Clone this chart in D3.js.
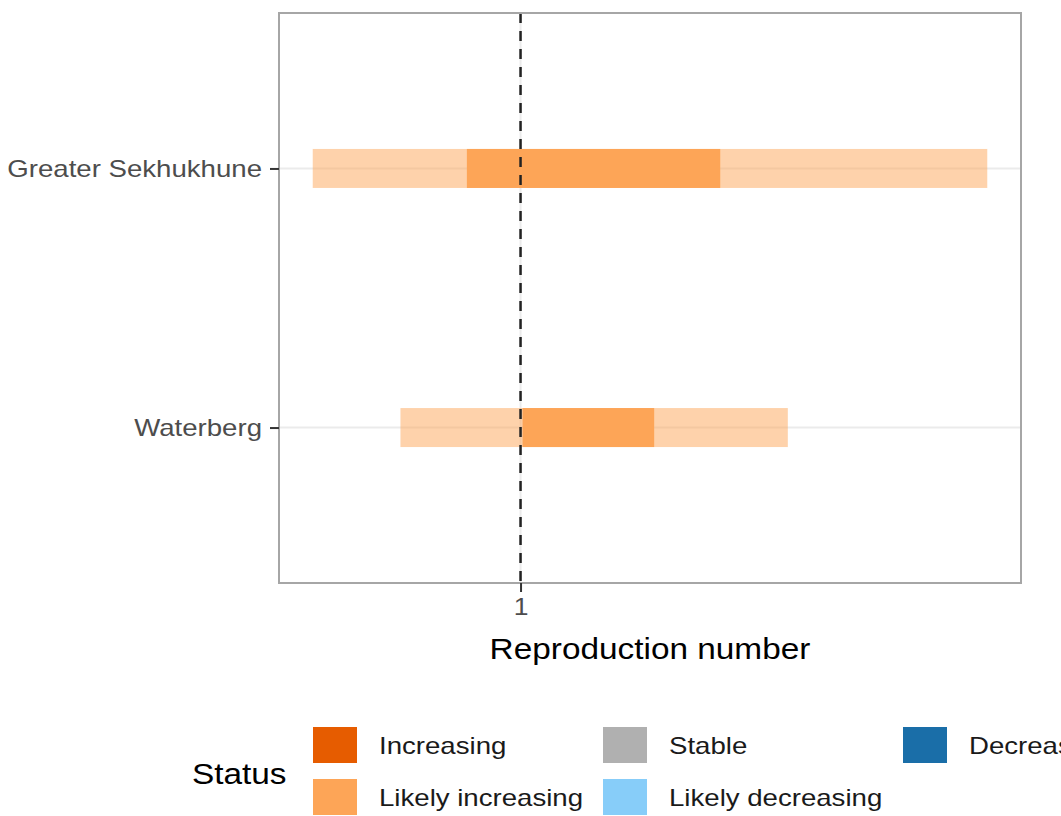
<!DOCTYPE html>
<html>
<head>
<meta charset="utf-8">
<script src="https://cdn.jsdelivr.net/npm/d3@7"></script>
<style>
  html, body { margin: 0; padding: 0; background: #fff; }
  svg { display: block; font-family: "Liberation Sans", Arial, sans-serif; }
</style>
</head>
<body>
<svg id="chart" width="1061" height="816"></svg>
<script>
// ---- data ----
const regions = ["Greater Sekhukhune", "Waterberg"];
const lower90 = [0.665, 0.790];
const lower50 = [0.900, 1.004];
const upper50 = [1.48, 1.30];
const upper90 = [2.50, 1.69];
const status = ["Likely increasing", "Likely increasing"];
const xTicks = [1];
const legendLabels = ["Increasing", "Likely increasing", "Stable", "Likely decreasing", "Decreasing"];
const legendColors = ["#e65c00", "#fda557", "#b0b0b0", "#87cdf9", "#1a6ea8"];

// ---- layout ----
const svg = d3.select("#chart");
const panel = { left: 279, right: 1021, top: 13, bottom: 583 };
const stretch = 1.15; // horizontal stretch of text seen in reference

const lmin = Math.log10(d3.min(lower90)), lmax = Math.log10(d3.max(upper90));
const ext = (lmax - lmin) * 0.05;
const x = d3.scaleLog()
  .domain([Math.pow(10, lmin - ext), Math.pow(10, lmax + ext)])
  .range([panel.left, panel.right]);
const y = d3.scalePoint().domain(regions).range([panel.top, panel.bottom]).padding(0.6);
const color = d3.scaleOrdinal().domain(legendLabels).range(legendColors);

const barH = 39;

// grid lines
svg.append("g").selectAll("line").data(regions).join("line")
  .attr("x1", panel.left).attr("x2", panel.right)
  .attr("y1", d => y(d)).attr("y2", d => y(d))
  .attr("stroke", "#ebebeb").attr("stroke-width", 2);
svg.append("g").selectAll("line").data(xTicks).join("line")
  .attr("x1", d => x(d)).attr("x2", d => x(d))
  .attr("y1", panel.top).attr("y2", panel.bottom)
  .attr("stroke", "#ebebeb").attr("stroke-width", 2);

// outer (90%) bands
svg.append("g").selectAll("rect").data(regions).join("rect")
  .attr("x", (d, i) => x(lower90[i]))
  .attr("width", (d, i) => x(upper90[i]) - x(lower90[i]))
  .attr("y", d => y(d) - barH / 2).attr("height", barH)
  .attr("fill", (d, i) => color(status[i])).attr("fill-opacity", 0.5);

// inner (50%) bands
svg.append("g").selectAll("rect").data(regions).join("rect")
  .attr("x", (d, i) => x(lower50[i]))
  .attr("width", (d, i) => x(upper50[i]) - x(lower50[i]))
  .attr("y", d => y(d) - barH / 2).attr("height", barH)
  .attr("fill", (d, i) => color(status[i]));

// dashed reference line at 1
svg.append("line")
  .attr("x1", x(1)).attr("x2", x(1))
  .attr("y1", panel.top).attr("y2", panel.bottom)
  .attr("stroke", "#222").attr("stroke-width", 2.5)
  .attr("stroke-dasharray", "10,8");

// panel border
svg.append("rect")
  .attr("x", panel.left).attr("y", panel.top)
  .attr("width", panel.right - panel.left).attr("height", panel.bottom - panel.top)
  .attr("fill", "none").attr("stroke", "#a6a6a6").attr("stroke-width", 2);

// y axis
const yAxis = svg.append("g").attr("transform", `translate(${panel.left},0)`)
  .call(d3.axisLeft(y).tickSize(9).tickPadding(8));
yAxis.select(".domain").remove();
yAxis.selectAll(".tick line").attr("stroke", "#333").attr("stroke-width", 2);
yAxis.selectAll(".tick text").attr("fill", "#4d4d4d").style("font-size", "24px");

// x axis
const xAxis = svg.append("g").attr("transform", `translate(0,${panel.bottom})`)
  .call(d3.axisBottom(x).tickValues(xTicks).tickFormat(d3.format("d")).tickSize(9).tickPadding(7));
xAxis.select(".domain").remove();
xAxis.selectAll(".tick line").attr("stroke", "#333").attr("stroke-width", 2);
xAxis.selectAll(".tick text").attr("fill", "#4d4d4d").style("font-size", "23px");

svg.append("text")
  .attr("x", (panel.left + panel.right) / 2).attr("y", 659)
  .attr("text-anchor", "middle").style("font-size", "29px").attr("fill", "#000")
  .text("Reproduction number");

// legend
svg.append("text").attr("x", 192).attr("y", 784)
  .style("font-size", "29px").attr("fill", "#000").text("Status");

const colX = [313, 603, 903];
const rowY = [727, 779];
const legend = svg.append("g").selectAll("g").data(legendLabels).join("g")
  .attr("transform", (d, i) => `translate(${colX[Math.floor(i / 2)]},${rowY[i % 2]})`);
legend.append("rect").attr("width", 44).attr("height", 36)
  .attr("fill", d => color(d));
legend.append("text").attr("x", 66).attr("y", 27)
  .style("font-size", "24px").attr("fill", "#1a1a1a").text(d => d);

// horizontal stretch of all texts to match reference proportions
svg.selectAll("text").each(function () {
  const w = this.getComputedTextLength();
  if (w > 0) d3.select(this).attr("textLength", w * stretch).attr("lengthAdjust", "spacingAndGlyphs");
});
</script>
</body>
</html>
